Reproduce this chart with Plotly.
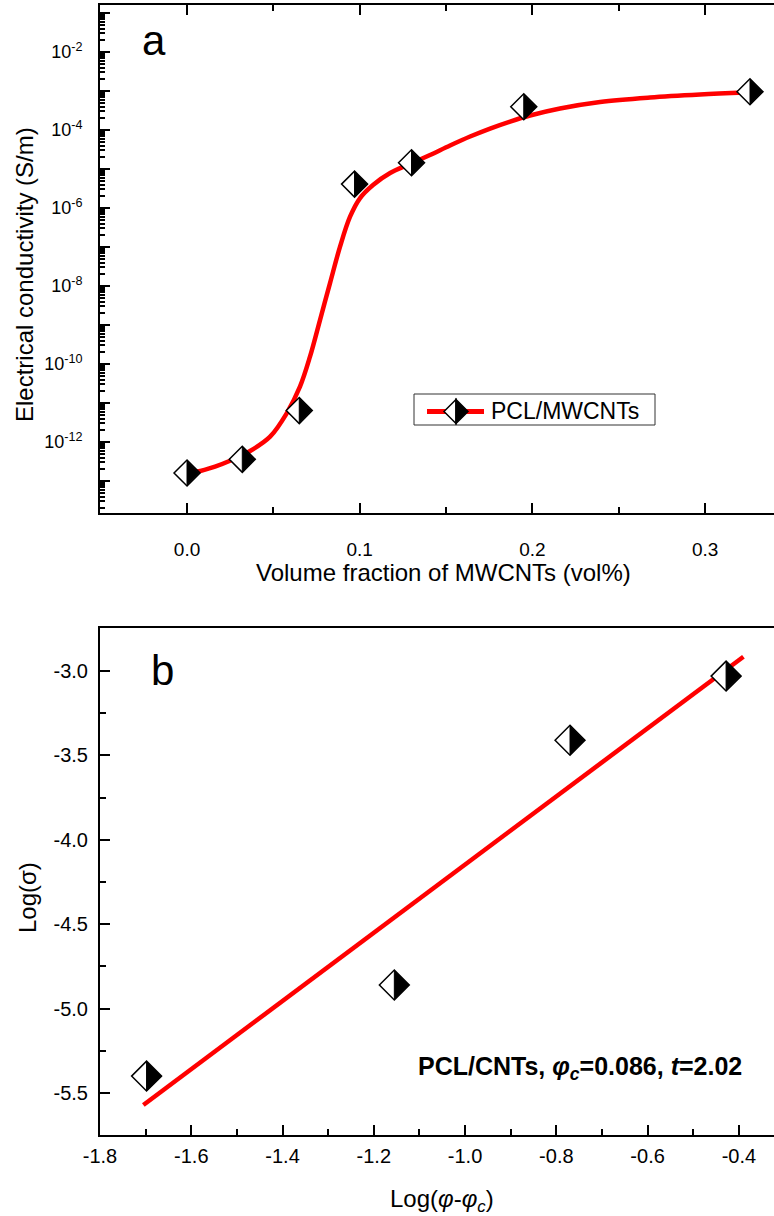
import plotly.graph_objects as go

FONT = "Liberation Sans, Arial, sans-serif"

# ---------------- data ----------------
# panel a : conductivity vs MWCNT volume fraction
vol_fraction = [0.0, 0.032, 0.065, 0.097, 0.130, 0.195, 0.326]
conductivity = [1.6e-13, 3.6e-13, 6.4e-12, 4.1e-6, 1.45e-5, 3.95e-4, 9.6e-4]

fit_curve_x = [0.0, 0.0058, 0.0162, 0.0249, 0.0365, 0.0481, 0.0577, 0.0654,
               0.0712, 0.0770, 0.0828, 0.0886, 0.0944, 0.1002, 0.1077, 0.1176,
               0.1291, 0.1407, 0.1523, 0.1639, 0.1755, 0.1871, 0.1986, 0.2160,
               0.2392, 0.2681, 0.2971, 0.3232]
fit_curve_y = [1.70e-13, 1.75e-13, 2.35e-13, 3.32e-13, 5.88e-13, 1.37e-12,
               5.44e-12, 2.62e-11, 1.54e-10, 1.34e-9, 1.19e-8, 1.02e-7,
               5.98e-7, 1.80e-6, 3.89e-6, 7.89e-6, 1.34e-5, 2.29e-5, 4.01e-5,
               6.81e-5, 1.09e-4, 1.65e-4, 2.35e-4, 3.56e-4, 5.22e-4, 6.81e-4,
               8.13e-4, 9.16e-4]

# panel b : log-log percolation fit
log_phi = [-1.698, -1.155, -0.770, -0.428]
log_sigma = [-5.40, -4.86, -3.41, -3.03]
fit_line_x = [-1.705, -0.39]
fit_line_y = [-5.571, -2.915]

# tick labels
a_xticks = [0.0, 0.1, 0.2, 0.3]
a_xticktext = ["0.0", "0.1", "0.2", "0.3"]
a_xminor = [0.05, 0.15, 0.25]
a_label_exponents = [-12, -10, -8, -6, -4, -2]
a_odd_exponents = [-13, -11, -9, -7, -5, -3, -1]
b_xticks = [-1.8, -1.6, -1.4, -1.2, -1.0, -0.8, -0.6, -0.4]
b_xticktext = ["-1.8", "-1.6", "-1.4", "-1.2", "-1.0", "-0.8", "-0.6", "-0.4"]
b_xminor = [-1.7, -1.5, -1.3, -1.1, -0.9, -0.7, -0.5]
b_yticks = [-3.0, -3.5, -4.0, -4.5, -5.0, -5.5]
b_yticktext = ["-3.0", "-3.5", "-4.0", "-4.5", "-5.0", "-5.5"]
b_yminor = [-3.25, -3.75, -4.25, -4.75, -5.25, -5.75]

legend_label = "PCL/MWCNTs"
fit_label = "<b>PCL/CNTs, <i>φ</i><sub><i>c</i></sub>=0.086, <i>t</i>=2.02</b>"

# ---------------- figure ----------------
W, H = 774, 1216
ML, MR, MT, MB = 100, 0, 5, 81
PW, PH = W - ML - MR, H - MT - MB


def px_x(p):
    return (p - ML) / PW


def px_y(p):
    return (H - MB - p) / PH


RED = "#ff0000"
fig = go.Figure()

fig.add_trace(go.Scatter(x=fit_curve_x, y=fit_curve_y, mode="lines",
                         line=dict(color=RED, width=4.5, shape="spline"),
                         xaxis="x", yaxis="y", hoverinfo="skip"))
fig.add_trace(go.Scatter(x=vol_fraction, y=conductivity, mode="markers",
                         marker=dict(symbol="diamond", size=20, color="white",
                                     line=dict(color="black", width=1.5)),
                         xaxis="x", yaxis="y"))
# empty trace that carries the unlabeled odd-decade ticks
fig.add_trace(go.Scatter(x=[], y=[], xaxis="x", yaxis="y3",
                         hoverinfo="skip"))

fig.add_trace(go.Scatter(x=fit_line_x, y=fit_line_y, mode="lines",
                         line=dict(color=RED, width=4.5),
                         xaxis="x2", yaxis="y2", hoverinfo="skip"))
fig.add_trace(go.Scatter(x=log_phi, y=log_sigma, mode="markers",
                         marker=dict(symbol="diamond", size=23, color="white",
                                     line=dict(color="black", width=1.5)),
                         xaxis="x2", yaxis="y2"))

shapes = []


def half_diamond(xref, yref, xa, ya, s):
    return dict(type="path", xref=xref, yref=yref, xsizemode="pixel",
                ysizemode="pixel", xanchor=xa, yanchor=ya,
                path=f"M0,{s} L{s},0 L0,{-s} Z", fillcolor="black",
                line=dict(color="black", width=1), layer="above")


for xv, yv in zip(vol_fraction, conductivity):
    shapes.append(half_diamond("x", "y", xv, yv, 12.5))
for xv, yv in zip(log_phi, log_sigma):
    shapes.append(half_diamond("x2", "y2", xv, yv, 14.5))

# manual legend for panel a
shapes.append(dict(type="rect", xref="paper", yref="paper",
                   x0=px_x(414), x1=px_x(655), y0=px_y(425), y1=px_y(394),
                   line=dict(color="#333333", width=1), fillcolor="white",
                   layer="above"))
shapes.append(dict(type="line", xref="paper", yref="paper",
                   x0=px_x(427), x1=px_x(484), y0=px_y(411.5), y1=px_y(411.5),
                   line=dict(color=RED, width=5), layer="above"))
shapes.append(dict(type="path", xref="paper", yref="paper", xsizemode="pixel",
                   ysizemode="pixel", xanchor=px_x(456), yanchor=px_y(411.5),
                   path="M0,12 L-12,0 L0,-12 Z", fillcolor="white",
                   line=dict(color="black", width=1.5), layer="above"))
shapes.append(dict(type="path", xref="paper", yref="paper", xsizemode="pixel",
                   ysizemode="pixel", xanchor=px_x(456), yanchor=px_y(411.5),
                   path="M0,12 L12,0 L0,-12 Z", fillcolor="black",
                   line=dict(color="black", width=1.5), layer="above"))


def note(text, x, y, size, angle=0, xanchor="center"):
    return dict(text=text, x=px_x(x), y=px_y(y), xref="paper", yref="paper",
                xanchor=xanchor, yanchor="middle", textangle=angle,
                showarrow=False,
                font=dict(family=FONT, size=size, color="black"))


annotations = [
    note(legend_label, 489, 411, 23, xanchor="left"),
    note("a", 154, 40, 42),
    note("b", 162, 670, 42),
    note("Electrical conductivity (S/m)", 24, 275, 24, angle=-90),
    note("Volume fraction of MWCNTs (vol%)", 443, 572, 24),
    note("Log(σ)", 27, 898, 24, angle=-90),
    note("Log(<i>φ</i>-<i>φ</i><sub><i>c</i></sub>)", 442, 1200, 24),
    note(fit_label, 416, 1068, 25, xanchor="left"),
]

axis_common = dict(showline=True, linewidth=2, linecolor="black",
                   showgrid=False, zeroline=False, ticks="inside",
                   ticklen=10, tickwidth=2, tickcolor="black")

fig.update_layout(
    width=W, height=H,
    margin=dict(l=ML, r=MR, t=MT, b=MB),
    paper_bgcolor="white", plot_bgcolor="white",
    showlegend=False,
    font=dict(family=FONT, color="black"),
    shapes=shapes, annotations=annotations,
    xaxis=dict(axis_common, domain=[0, 1], anchor="y",
               range=[-0.0504, 0.3399], tickmode="array", tickvals=a_xticks,
               ticktext=a_xticktext, mirror="ticks",
               tickfont=dict(family=FONT, size=19),
               ticklabelstandoff=18,
               minor=dict(tickmode="array", tickvals=a_xminor, ticks="inside",
                          ticklen=6, tickwidth=2, tickcolor="black")),
    yaxis=dict(axis_common, domain=[px_y(513), 1], anchor="x", type="log",
               range=[-13.82, -0.795], tickmode="array",
               tickvals=[10.0 ** e for e in a_label_exponents],
               ticktext=["10<sup>%d</sup>" % e for e in a_label_exponents],
               tickfont=dict(family=FONT, size=18),
               ticklabelstandoff=12,
               minor=dict(tickmode="array",
                          tickvals=[k * 10.0 ** e for e in range(-14, 0)
                                    for k in range(2, 10)],
                          ticks="inside", ticklen=5, tickwidth=1.5,
                          tickcolor="black")),
    yaxis3=dict(overlaying="y", anchor="x", side="left", type="log",
                range=[-13.82, -0.795], tickmode="array",
                tickvals=[10.0 ** e for e in a_odd_exponents],
                showticklabels=False, ticks="inside", ticklen=10, tickwidth=2,
                tickcolor="black", showline=False, showgrid=False,
                zeroline=False),
    xaxis2=dict(axis_common, domain=[0, 1], anchor="y2",
                range=[-1.8, -0.323], tickmode="array", tickvals=b_xticks,
                ticktext=b_xticktext, mirror=True,
                tickfont=dict(family=FONT, size=20),
                ticklabelstandoff=2,
                minor=dict(tickmode="array", tickvals=b_xminor, ticks="inside",
                           ticklen=6, tickwidth=2, tickcolor="black")),
    yaxis2=dict(axis_common, domain=[0, px_y(628)], anchor="x2",
                range=[-5.749, -2.745], tickmode="array", tickvals=b_yticks,
                ticktext=b_yticktext,
                tickfont=dict(family=FONT, size=20),
                ticklabelstandoff=6,
                minor=dict(tickmode="array", tickvals=b_yminor, ticks="inside",
                           ticklen=6, tickwidth=2, tickcolor="black")),
)

fig.write_html("out.html",
               config={"displayModeBar": False},
               post_script="document.body.style.margin='0px';"
                           "document.body.style.overflow='hidden';")
